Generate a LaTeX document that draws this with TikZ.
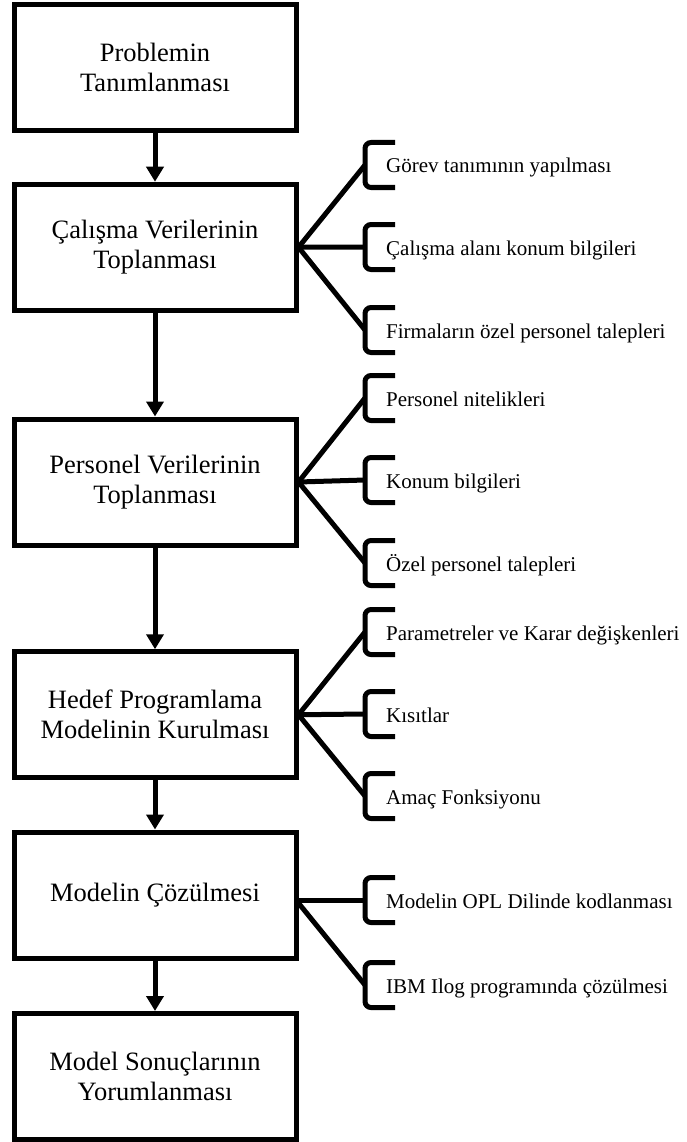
\documentclass[tikz,border=0pt]{standalone}
\usepackage{fontspec}
\setmainfont{Liberation Serif}
\usetikzlibrary{arrows.meta}
\tikzset{
  box/.style={draw, line width=5pt, minimum width=282pt, minimum height=126pt, inner sep=0pt, align=center, font=\fontsize{26.5}{30}\selectfont},
  arr/.style={line width=5pt, -{Triangle[width=17pt,length=15pt]}},
  fan/.style={line width=5pt},
  brk/.style={line width=5pt, rounded corners=6pt, line cap=butt},
  lab/.style={anchor=base west, inner sep=0pt, font=\fontsize{21}{25}\selectfont}
}
\begin{document}
\begin{tikzpicture}[x=1pt,y=-1pt]
\useasboundingbox (0,0) rectangle (687,1142);
% main boxes
\node[box] (b1) at (155,67.25) {Problemin\\Tanımlanması};
\node[box] (b2) at (155,247.25) {Çalışma Verilerinin\\Toplanması};
\node[box] (b3) at (155,482) {Personel Verilerinin\\Toplanması};
\node[box] (b4) at (155,714.75) {Hedef Programlama\\Modelinin Kurulması};
\node[box] (b5) at (155,895) {Modelin Çözülmesi};
\node[box] (b6) at (155,1076.5) {Model Sonuçlarının\\Yorumlanması};
% arrows
\draw[arr] (b1.south) -- (b2.north);
\draw[arr] (b2.south) -- (b3.north);
\draw[arr] (b3.south) -- (b4.north);
\draw[arr] (b4.south) -- (b5.north);
\draw[arr] (b5.south) -- (b6.north);
% bracket anchor points
\coordinate (k21) at (365,165);
\coordinate (k22) at (365,247);
\coordinate (k23) at (365,330);
\coordinate (k31) at (365,398);
\coordinate (k32) at (365,480);
\coordinate (k33) at (365,563);
\coordinate (k41) at (365,632);
\coordinate (k42) at (365,714);
\coordinate (k43) at (365,796);
\coordinate (k51) at (365,900);
\coordinate (k52) at (365,985);
% fan lines
\coordinate (f5) at (296,900);
\foreach \k in {k21,k22,k23} \draw[fan] (b2.east) -- (\k);
\foreach \k in {k31,k32,k33} \draw[fan] (b3.east) -- (\k);
\foreach \k in {k41,k42,k43} \draw[fan] (b4.east) -- (\k);
\foreach \k in {k51,k52} \draw[fan] (f5) -- (\k);
% brackets
\foreach \k in {k21,k22,k23,k31,k32,k33,k41,k42,k43,k51,k52}
  \draw[brk] (\k) ++(30,-22.5) -- ++(-30,0) -- ++(0,45) -- ++(30,0);
% labels
\node[lab] (s21) at ([xshift=21pt,yshift=-8pt]k21) {Görev tanımının yapılması};
\node[lab] (s22) at ([xshift=21pt,yshift=-8pt]k22) {Çalışma alanı konum bilgileri};
\node[lab] (s23) at ([xshift=21pt,yshift=-8pt]k23) {Firmaların özel personel talepleri};
\node[lab] (s31) at ([xshift=21pt,yshift=-8pt]k31) {Personel nitelikleri};
\node[lab] (s32) at ([xshift=21pt,yshift=-8pt]k32) {Konum bilgileri};
\node[lab] (s33) at ([xshift=21pt,yshift=-8pt]k33) {Özel personel talepleri};
\node[lab] (s41) at ([xshift=21pt,yshift=-8pt]k41) {Parametreler ve Karar değişkenleri};
\node[lab] (s42) at ([xshift=21pt,yshift=-8pt]k42) {Kısıtlar};
\node[lab] (s43) at ([xshift=21pt,yshift=-8pt]k43) {Amaç Fonksiyonu};
\node[lab] (s51) at ([xshift=21pt,yshift=-8pt]k51) {Modelin OPL Dilinde kodlanması};
\node[lab] (s52) at ([xshift=21pt,yshift=-8pt]k52) {IBM Ilog programında çözülmesi};
\end{tikzpicture}
\end{document}
